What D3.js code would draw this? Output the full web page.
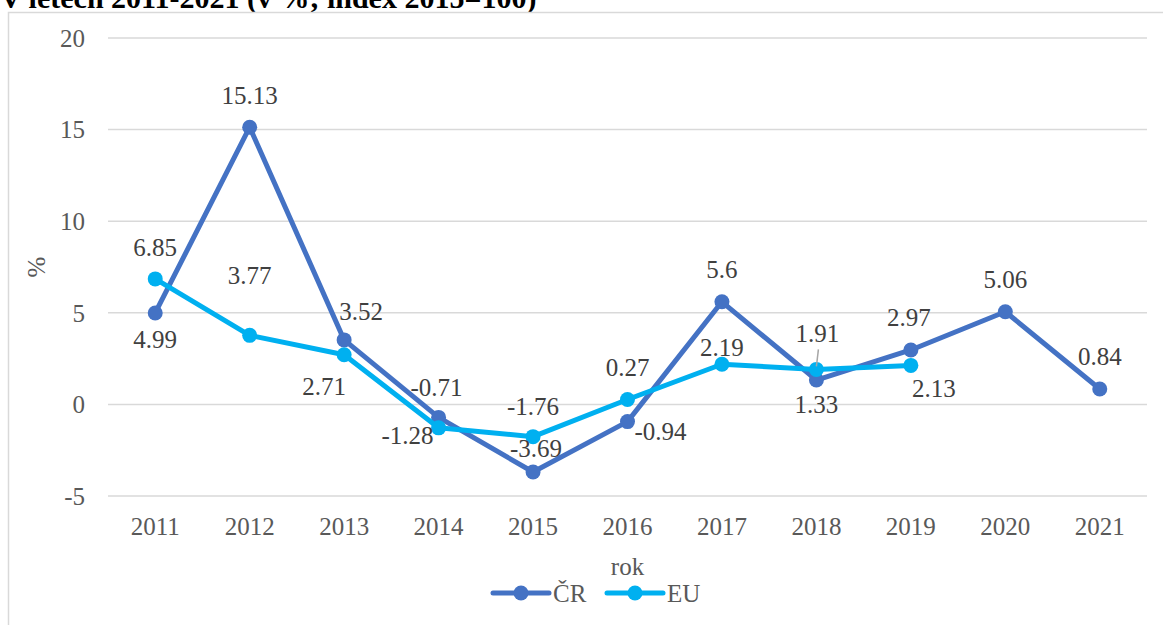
<!DOCTYPE html>
<html>
<head>
<meta charset="utf-8">
<script src="https://cdn.jsdelivr.net/npm/d3@7/dist/d3.min.js"></script>
<style>
  html, body { margin: 0; padding: 0; background: #fff; }
  svg { display: block; }
</style>
</head>
<body>
<svg id="chart" width="1163" height="625"></svg>
<script>
// ---- data ----
const years = ["2011","2012","2013","2014","2015","2016","2017","2018","2019","2020","2021"];
const crValues = [4.99, 15.13, 3.52, -0.71, -3.69, -0.94, 5.6, 1.33, 2.97, 5.06, 0.84];
const euValues = [6.85, 3.77, 2.71, -1.28, -1.76, 0.27, 2.19, 1.91, 2.13, null, null];
const yTicks = [-5, 0, 5, 10, 15, 20];
const seriesNames = ["ČR", "EU"];
const titleText = "V letech 2011-2021 (v %; index 2015=100)";
const xTitle = "rok";
const yTitle = "%";

// ---- label placement (layout only, offsets in px from the point) ----
const crLabelOffsets = [[0,27],[0,-31],[17,-28],[-2,-30],[3,-23],[33,10],[0,-32],[0,25],[-2,-32],[0,-32],[0,-32]];
const euLabelOffsets = [[0,-31],[0,-60],[-20,32],[-31,8],[0,-30],[0,-32],[0,-17],[1,-36],[23,23],null,null];

const svg = d3.select("#chart");
const colors = ["#4472C4", "#00B0F0"];
const FS = 25;
const SERIF = '"Liberation Serif", "Times New Roman", Times, serif';
const txt = sel => sel.style("font-family", SERIF);

// title (clipped at top like the reference)
svg.append("text")
  .attr("x", 0).attr("y", 8)
  .call(txt)
  .style("font-weight", "bold").style("font-size", "30px")
  .attr("fill", "#000")
  .text(titleText);

// chart frame
svg.append("rect")
  .attr("x", 8.5).attr("y", 12.5).attr("width", 1200).attr("height", 700)
  .attr("fill", "#fff").attr("stroke", "#d9d9d9").attr("stroke-width", 1.5);

const plot = {left: 108, right: 1147, top: 38, bottom: 496};

const x = d3.scaleBand().domain(years).range([plot.left, plot.right]);
const y = d3.scaleLinear().domain([-5, 20]).range([plot.bottom, plot.top]);
const cx = d => x(d) + x.bandwidth() / 2;
const fmt = v => String(v).replace("\u2212", "-");

// gridlines
svg.append("g").selectAll("line").data(yTicks).join("line")
  .attr("x1", plot.left).attr("x2", plot.right)
  .attr("y1", d => y(d)).attr("y2", d => y(d))
  .attr("stroke", "#d9d9d9").attr("stroke-width", 1.5);

// y axis labels
const yAxis = d3.axisLeft(y).tickValues(yTicks).tickSize(0).tickPadding(0).tickFormat(fmt);
const gy = svg.append("g").attr("transform", `translate(85,0)`).call(yAxis);
gy.select(".domain").remove();
gy.attr("font-family", null).attr("font-size", null);
gy.selectAll("text").call(txt).style("font-size", FS + "px").attr("fill", "#595959").attr("dy", "0.33em");

// x axis labels
const xAxis = d3.axisBottom(x).tickSize(0).tickPadding(0);
const gx = svg.append("g").attr("transform", `translate(0,${plot.bottom})`).call(xAxis);
gx.select(".domain").remove();
gx.attr("font-family", null).attr("font-size", null);
gx.selectAll("text").call(txt).style("font-size", FS + "px").attr("fill", "#595959")
  .attr("dy", null).attr("y", 39);

// axis titles
svg.append("text").attr("x", (plot.left + plot.right) / 2).attr("y", 575)
  .attr("text-anchor", "middle").call(txt).style("font-size", FS + "px").attr("fill", "#595959")
  .text(xTitle);
svg.append("text").attr("transform", "translate(45,267) rotate(-90)")
  .attr("text-anchor", "middle").call(txt).style("font-size", FS + "px").attr("fill", "#595959")
  .text(yTitle);

// series
const series = [
  {name: seriesNames[0], values: crValues, color: colors[0], offsets: crLabelOffsets},
  {name: seriesNames[1], values: euValues, color: colors[1], offsets: euLabelOffsets}
];

const line = d3.line()
  .defined(d => d.v !== null)
  .x(d => cx(d.year)).y(d => y(d.v));

series.forEach(s => {
  const pts = years.map((yr, i) => ({year: yr, v: s.values[i], off: s.offsets[i]}));
  const g = svg.append("g");
  g.append("path").datum(pts).attr("d", line)
    .attr("fill", "none").attr("stroke", s.color).attr("stroke-width", 5)
    .attr("stroke-linejoin", "round").attr("stroke-linecap", "round");
  g.selectAll("circle").data(pts.filter(d => d.v !== null)).join("circle")
    .attr("cx", d => cx(d.year)).attr("cy", d => y(d.v)).attr("r", 7.5)
    .attr("fill", s.color);
  s.pts = pts;
});

// leader line for EU 2018 label
{
  const i = years.indexOf("2018");
  const px = cx(years[i]), py = y(euValues[i]);
  svg.append("line").attr("x1", px + 2).attr("y1", py - 20).attr("x2", px).attr("y2", py - 3)
    .attr("stroke", "#a6a6a6").attr("stroke-width", 1.5);
}

// data labels
series.forEach(s => {
  svg.append("g").selectAll("text").data(s.pts.filter(d => d.v !== null)).join("text")
    .attr("x", d => cx(d.year) + d.off[0])
    .attr("y", d => y(d.v) + d.off[1])
    .attr("dy", "0.33em")
    .attr("text-anchor", "middle")
    .call(txt).style("font-size", FS + "px").attr("fill", "#404040")
    .text(d => fmt(d.v));
});

// legend
const legendItems = [
  {name: seriesNames[0], color: colors[0], x0: 493},
  {name: seriesNames[1], color: colors[1], x0: 607}
];
const lg = svg.append("g");
legendItems.forEach(it => {
  lg.append("line").attr("x1", it.x0).attr("x2", it.x0 + 56).attr("y1", 593).attr("y2", 593)
    .attr("stroke", it.color).attr("stroke-width", 5).attr("stroke-linecap", "round");
  lg.append("circle").attr("cx", it.x0 + 28).attr("cy", 593).attr("r", 7.5).attr("fill", it.color);
  lg.append("text").attr("x", it.x0 + 60).attr("y", 593).attr("dy", "0.35em")
    .call(txt).style("font-size", FS + "px").attr("fill", "#595959").text(it.name);
});
</script>
</body>
</html>
